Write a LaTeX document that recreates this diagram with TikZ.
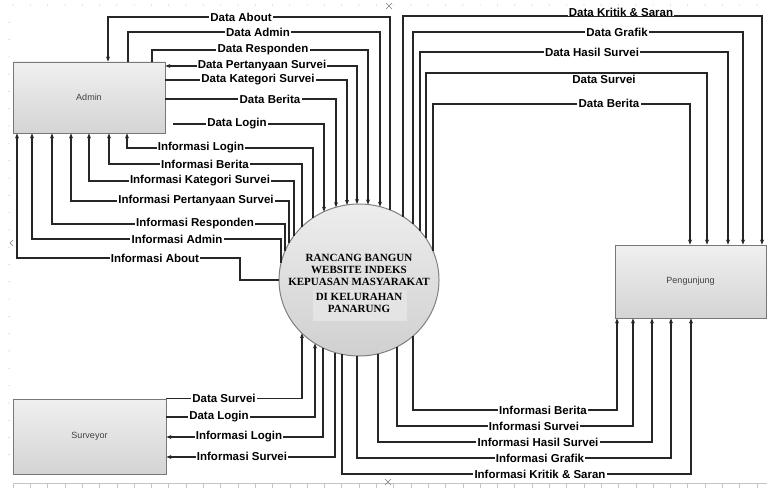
\documentclass[tikz,border=0pt]{standalone}
\usepackage{fontspec}
\newfontfamily\lblsans{Liberation Sans}
\newfontfamily\lblserif{Liberation Serif}
\usetikzlibrary{arrows.meta,shapes.geometric,calc}
\definecolor{lc}{HTML}{262626}
\definecolor{bc}{HTML}{777777}
\definecolor{boxtop}{HTML}{F0F0F0}
\definecolor{boxbot}{HTML}{D4D4D4}
\definecolor{boxtext}{HTML}{404040}
\definecolor{cc}{HTML}{808080}
\definecolor{ctopc}{HTML}{EDEDED}
\definecolor{cbotc}{HTML}{D0D0D0}
\definecolor{cboxc}{HTML}{E4E4E4}
\definecolor{gridc}{HTML}{C4C4C4}
\newcommand\lblfont{\lblsans\bfseries\fontsize{11.5}{13}\selectfont}
\newcommand\boxfont{\lblsans\fontsize{9}{10}\selectfont}
\newcommand\cfont{\lblserif\bfseries\fontsize{11}{12}\selectfont}
\newcommand\mkTop[2]{\coordinate (#1) at ($(C.center)+({#2},{-76*sqrt(1-((#2)/80)^2)})$);}
\newcommand\mkBot[2]{\coordinate (#1) at ($(C.center)+({#2},{76*sqrt(1-((#2)/80)^2)})$);}
\begin{document}
\begin{tikzpicture}[x=1pt,y=-1pt,
  >={Stealth[length=5pt,width=4pt]},
  flow/.style={draw=lc,line width=1.1pt},
  box/.style={draw=bc,line width=0.9pt,top color=boxtop,bottom color=boxbot,font=\boxfont,text=boxtext,inner sep=0pt},
  lbl/.style={font=\lblfont,fill=white,inner xsep=1.2pt,inner ysep=0.3pt,text=black},
  lblnf/.style={font=\lblfont,inner xsep=1.2pt,inner ysep=0.3pt,text=black},
  gridmark/.style={draw=gridc,line width=0.5pt}]
\useasboundingbox (0,0) rectangle (767,489);
\fill[white] (0,0) rectangle (767,489);
% faint page markers
\foreach \i in {0,...,43} {\fill[gridc] ({13+17.3*\i},5) circle (0.6pt);}
\foreach \i in {1,...,26} {\fill[gridc] (9,{5+17.3*\i}) circle (0.6pt);}
\draw[gridmark] (13,483) -- (767,483);
\foreach \i in {0,...,43} {\draw[gridmark] ({13+17.3*\i},483) -- ({13+17.3*\i},488);}
\draw[draw=gray,line width=0.6pt] (386,3) -- (392,9) (386,9) -- (392,3);
\draw[draw=gray,line width=0.6pt] (385,479) -- (391,485) (385,485) -- (391,479);
\draw[draw=gray,line width=0.6pt] (13,240) -- (10,243) -- (13,246);
% entities
\node[box,minimum width=152pt,minimum height=71pt] (A) at (89,97.5) {Admin};
\node[box,minimum width=153pt,minimum height=75pt] (S) at (89.5,436.5) {Surveyor};
\node[box,minimum width=151pt,minimum height=73pt] (P) at (690.5,281.5) {Pengunjung};
% process
\node[ellipse,draw=cc,line width=1pt,top color=ctopc,bottom color=cbotc,minimum width=160pt,minimum height=152pt,inner sep=0pt] (C) at (359,280) {};
\node[fill=cboxc,minimum width=94pt,minimum height=31pt,inner sep=0pt] (Cb) at (360,305) {};
\node[font=\cfont,align=center,inner sep=0pt] (Ct) at (359,283.5) {RANCANG BANGUN\\WEBSITE INDEKS\\KEPUASAN MASYARAKAT\\[3.5pt]DI KELURAHAN\\PANARUNG};
% points on the circle
\mkTop{t324}{-35}\mkTop{t336}{-23}\mkTop{t347}{-12}\mkTop{t357}{-2}
\mkTop{t368}{9}\mkTop{t380}{21}\mkTop{t390}{31}
\mkTop{t313}{-46}\mkTop{t302}{-57}\mkTop{t294}{-65}\mkTop{t289}{-70}
\mkTop{t285}{-74}\mkTop{t281}{-78}
\mkTop{t403}{44}\mkTop{t413}{54}\mkTop{t420}{61}\mkTop{t426}{67}\mkTop{t433}{74}
\mkBot{b302}{-57}\mkBot{b315}{-44}\mkBot{b323}{-36}\mkBot{b335}{-24}
\mkBot{b342}{-17}\mkBot{b357}{-2}\mkBot{b378}{19}\mkBot{b397}{38}\mkBot{b413}{54}
\coordinate (dl) at (173,124);
% Admin data flows
\draw[flow,->] (t390) -- (t390 |- 0,17) -| (A.north -| 108,0);
\draw[flow,->] (A.north -| 128,0) -- (128,32) -| (t380);
\draw[flow,->] (A.north -| 152,0) -- (152,50) -| (t368);
\draw[flow,<->] (A.east |- 0,66) -| (t357);
\draw[flow,->] (A.east |- 0,80) -| (t347);
\draw[flow,->] (A.east |- 0,99) -| (t336);
\draw[flow,->] (dl) -| (t324);
\draw[flow,->] (t313) |- (127,148) -- (A.south -| 127,0);
\draw[flow,->] (t302) |- (109,164) -- (A.south -| 109,0);
\draw[flow,->] (t294) |- (89,181) -- (A.south -| 89,0);
\draw[flow,->] (t289) |- (71,201) -- (A.south -| 71,0);
\draw[flow,->] (t285) |- (52,224) -- (A.south -| 52,0);
\draw[flow,->] (t281) |- (32,239) -- (A.south -| 32,0);
\draw[flow,->] (C.west) -| (240,258) -| (A.south -| 17,0);
% Pengunjung data flows
\draw[flow,->] (t403) -- (t403 |- 0,16) -| (P.north -| 762,0);
\draw[flow,->] (t413) -- (t413 |- 0,32) -| (P.north -| 743,0);
\draw[flow,->] (t420) -- (t420 |- 0,52) -| (P.north -| 728,0);
\draw[flow,->] (t426) -- (t426 |- 0,73) -| (P.north -| 707,0);
\draw[flow,->] (t433) -- (t433 |- 0,104) -| (P.north -| 690,0);
\draw[flow,->] (b413) -- (b413 |- 0,410) -| (P.south -| 617,0);
\draw[flow,->] (b397) -- (b397 |- 0,426) -| (P.south -| 633,0);
\draw[flow,->] (b378) -- (b378 |- 0,442) -| (P.south -| 652,0);
\draw[flow,->] (b357) -- (b357 |- 0,458) -| (P.south -| 671,0);
\draw[flow,->] (b342) -- (b342 |- 0,474) -| (P.south -| 691,0);
% Surveyor flows
\draw[flow,->] (S.north east) -| (b302);
\draw[flow,->] (S.east |- 0,417) -| (b315);
\draw[flow,->] (b323) |- (S.east |- 0,437);
\draw[flow,->] (b335) |- (S.east |- 0,457);
% labels
\node[lbl] (lA1) at (241,17) {Data About};
\node[lbl] (lA2) at (258,32) {Data Admin};
\node[lbl] (lA3) at (263,50) {Data Responden};
\node[lbl] (lA4) at (262,66) {Data Pertanyaan Survei};
\node[lbl] (lA5) at (258,80) {Data Kategori Survei};
\node[lbl] (lA6) at (270,99) {Data Berita};
\node[lbl] (lA7) at (237,123.5) {Data Login};
\node[lbl] (lI1) at (201,148) {Informasi Login};
\node[lbl] (lI2) at (205,164) {Informasi Berita};
\node[lbl] (lI3) at (200,181) {Informasi Kategori Survei};
\node[lbl] (lI4) at (196,201) {Informasi Pertanyaan Survei};
\node[lbl] (lI5) at (195,224) {Informasi Responden};
\node[lbl] (lI6) at (177,239.5) {Informasi Admin};
\node[lbl] (lI7) at (155,258) {Informasi About};
\node[lbl,anchor=south,inner ysep=0pt] (lP1) at (621,16.5) {Data Kritik \& Saran};
\node[lbl] (lP2) at (617,32) {Data Grafik};
\node[lbl] (lP3) at (592,52) {Data Hasil Survei};
\node[lblnf] (lP4) at (604,79.5) {Data Survei};
\node[lbl] (lP5) at (609,103.5) {Data Berita};
\node[lbl] (lS1) at (224,398) {Data Survei};
\node[lbl] (lS2) at (219,417) {Data Login};
\node[lbl] (lS3) at (239,437) {Informasi Login};
\node[lbl] (lS4) at (242,456.5) {Informasi Survei};
\node[lbl] (lB1) at (543,410) {Informasi Berita};
\node[lbl] (lB2) at (534,426) {Informasi Survei};
\node[lbl] (lB3) at (538,442) {Informasi Hasil Survei};
\node[lbl] (lB4) at (540,458) {Informasi Grafik};
\node[lbl] (lB5) at (540,474) {Informasi Kritik \& Saran};
\end{tikzpicture}
\end{document}
